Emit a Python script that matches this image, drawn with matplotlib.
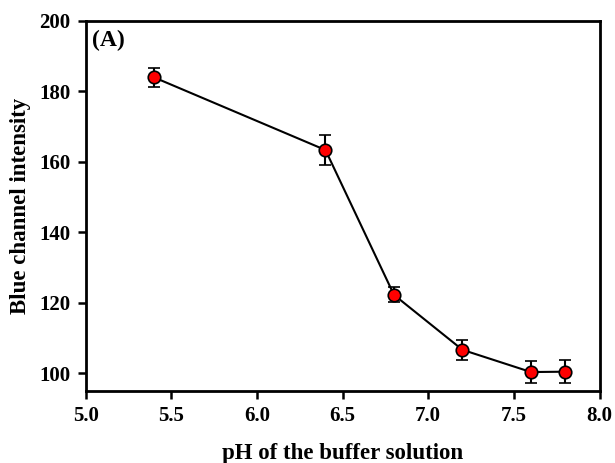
import numpy as np
import matplotlib
matplotlib.use('Agg')
import matplotlib.pyplot as plt

# pH values and measured blue channel intensity (mean +/- sd)
ph = [5.4, 6.4, 6.8, 7.2, 7.6, 7.8]
blue = [183.9, 163.3, 122.2, 106.6, 100.3, 100.4]
blue_err = [2.7, 4.3, 2.1, 2.8, 3.1, 3.2]

plt.rcParams['font.family'] = 'Liberation Serif'
plt.rcParams['font.weight'] = 'bold'

fig = plt.figure(figsize=(6.15, 4.63), dpi=100)
ax = fig.add_axes([0.1393, 0.1561, 0.8355, 0.7992])

ax.errorbar(ph, blue, yerr=blue_err, fmt='-o', color='black', lw=1.5,
            ecolor='black', elinewidth=1.5, capsize=4, capthick=1.5,
            marker='o', markersize=9, markerfacecolor='red',
            markeredgecolor='black', markeredgewidth=1.2)

ax.set_xlim(5.0, 8.0)
ax.set_ylim(95, 200)
ax.set_xticks(np.arange(5.0, 8.01, 0.5))
ax.set_yticks(np.arange(100, 201, 20))
ax.set_xticklabels(['%.1f' % t for t in np.arange(5.0, 8.01, 0.5)])

for s in ax.spines.values():
    s.set_linewidth(2)
ax.tick_params(direction='out', length=6, width=1.8, labelsize=15, pad=5)
for lab in ax.get_xticklabels() + ax.get_yticklabels():
    lab.set_fontweight('bold')

ax.set_xlabel('pH of the buffer solution', fontsize=16.5, fontweight='bold', labelpad=12)
ax.set_ylabel('Blue channel intensity', fontsize=16.5, fontweight='bold', labelpad=6)
ax.text(0.012, 0.975, '(A)', transform=ax.transAxes, fontsize=17,
        fontweight='bold', va='top', ha='left')

fig.savefig('out.png', dpi=100)
